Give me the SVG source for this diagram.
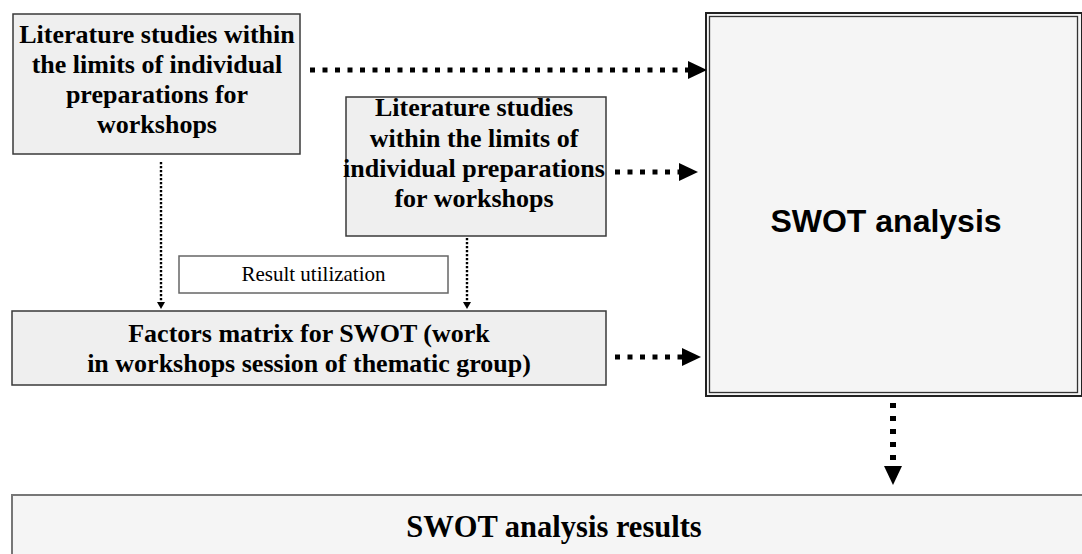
<svg xmlns="http://www.w3.org/2000/svg" width="1082" height="554" viewBox="0 0 1082 554">
<defs>
<style>
.box{fill:#efefef;stroke:#3a3a3a;stroke-width:1.5}
.lt{fill:#f5f5f5}
.bt{font-family:"Liberation Serif","Times New Roman",serif;font-weight:bold;font-size:26px;fill:#000;text-anchor:middle}
.thick{stroke:#000;stroke-width:5;stroke-dasharray:5 7.5;fill:none}
.thin{stroke:#000;stroke-width:2.4;stroke-dasharray:2.2 1.8;fill:none}
</style>
<marker id="ah" markerUnits="userSpaceOnUse" markerWidth="19" markerHeight="18" refX="0" refY="9" orient="auto" viewBox="0 0 19 18">
<path d="M0,0 L19,9 L0,18 z" fill="#000"/>
</marker>
<marker id="ahs" markerUnits="userSpaceOnUse" markerWidth="7" markerHeight="8" refX="0" refY="4" orient="auto" viewBox="0 0 7 8">
<path d="M0,0 L7,4 L0,8 z" fill="#000"/>
</marker>
</defs>
<rect width="1082" height="554" fill="#fff"/>

<g id="lit1">
<rect class="box" x="13" y="14" width="287" height="140"/>
<text class="bt" x="157" y="43">Literature studies within</text>
<text class="bt" x="157" y="73">the limits of individual</text>
<text class="bt" x="157" y="103">preparations for</text>
<text class="bt" x="157" y="133">workshops</text>
</g>

<g id="lit2">
<rect class="box" x="346" y="97" width="260" height="139"/>
<text class="bt" x="474" y="116">Literature studies</text>
<text class="bt" x="474" y="146.5">within the limits of</text>
<text class="bt" x="474" y="177">individual preparations</text>
<text class="bt" x="474" y="207">for workshops</text>
</g>

<g id="result-utilization">
<rect x="179" y="256" width="269" height="37" fill="#fff" stroke="#666" stroke-width="1.5"/>
<text x="313.5" y="281" font-family="Liberation Serif,Times New Roman,serif" font-size="21" text-anchor="middle" fill="#000">Result utilization</text>
</g>

<g id="factors">
<rect class="box" x="12" y="311" width="594" height="74"/>
<text class="bt" x="309" y="342">Factors matrix for SWOT (work</text>
<text class="bt" x="309" y="372">in workshops session of thematic group)</text>
</g>

<g id="swot">
<rect class="lt" x="706" y="13" width="376" height="383" stroke="#222" stroke-width="2"/>
<rect x="709.5" y="16.5" width="368" height="376" fill="none" stroke="#333" stroke-width="1.3"/>
<text x="886" y="232" font-family="Liberation Sans,Arial,sans-serif" font-weight="bold" font-size="32" text-anchor="middle" fill="#000">SWOT analysis</text>
</g>

<g id="results">
<rect class="lt" x="12" y="495" width="1080" height="80" stroke="#777" stroke-width="2"/>
<text class="bt" x="554" y="537" style="font-size:30.5px">SWOT analysis results</text>
</g>

<g id="connectors">
<line class="thick" x1="310" y1="70" x2="688" y2="70" marker-end="url(#ah)"/>
<line class="thick" x1="615" y1="172" x2="679" y2="172" marker-end="url(#ah)"/>
<line class="thick" x1="615" y1="357" x2="682" y2="357" marker-end="url(#ah)"/>
<line class="thick" x1="893" y1="403" x2="893" y2="466" style="stroke-width:6;stroke-dasharray:5 8" marker-end="url(#ah)"/>
<line class="thin" x1="161" y1="162" x2="161" y2="302" marker-end="url(#ahs)"/>
<line class="thin" x1="467" y1="238" x2="467" y2="302" marker-end="url(#ahs)"/>
</g>
</svg>
